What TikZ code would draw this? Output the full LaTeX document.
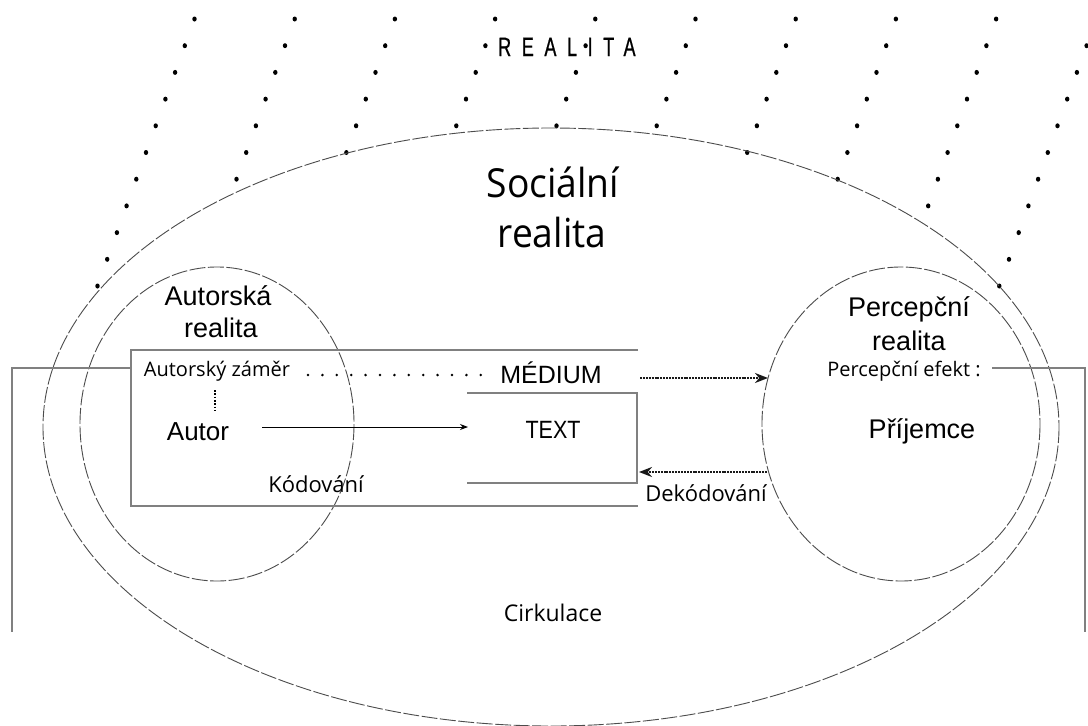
\documentclass[tikz,border=0pt]{standalone}
\usepackage{fontspec}
\setmainfont{Liberation Sans}
\newfontfamily\osans{Open Sans}
\newfontfamily\socfont[FakeStretch=0.93]{Open Sans}
\newfontfamily\condarial[FakeStretch=0.86]{Liberation Sans}
\newfontfamily\realfont[FakeStretch=0.68,LetterSpace=40,FakeBold=0.6]{Liberation Sans}
\usetikzlibrary{arrows.meta}
\begin{document}
\begin{tikzpicture}[x=1pt,y=-1pt,
  ring/.style={draw=black!70, line width=0.9pt, dash pattern=on 16pt off 2.5pt},
  boxline/.style={draw=black!50, line width=1.5pt},
  arialtxt/.style={inner sep=0pt, anchor=base, font=\fontsize{27}{30}\selectfont},
  sanstxt/.style={inner sep=0pt, anchor=base, font=\osans\fontsize{20}{24}\selectfont},
  dotarrow/.style={draw=black!90, line width=2.4pt, dash pattern=on 2pt off 0.9pt, -{Stealth[length=13pt,width=10pt]}},
  thinarrow/.style={draw=black, line width=0.9pt, -{Stealth[length=8pt,width=6pt]}},
  griddot/.style={fill=black}
]
\useasboundingbox (0,0) rectangle (1088,726);
\fill[white] (0,0) rectangle (1088,726);

% dot grid of the outer reality
\foreach \j in {0,...,10}{
  \foreach \i in {0,...,9}{
    \pgfmathsetmacro{\px}{194.5+100.2*\i-9.7*\j}
    \pgfmathsetmacro{\py}{19+26.7*\j}
    \pgfmathsetmacro{\vv}{((\px-551)/508)^2+((\py-427)/299)^2}
    \ifdim\vv pt>0.98pt
      \fill[griddot] (\px,\py) ellipse [x radius=2.2pt, y radius=2.5pt];
    \fi
  }
}

% ellipses
\draw[ring] (551,427) ellipse [x radius=508, y radius=299];
\draw[ring] (217,424) ellipse [x radius=137, y radius=157];
\draw[ring] (901,424) ellipse [x radius=139, y radius=157];

% texts
\node[inner sep=0pt, anchor=base west, font=\realfont\fontsize{26.5}{30}\selectfont] (realita) at (498,56) {REALITA};
\node[inner sep=0pt, anchor=base, font=\socfont\fontsize{40}{44}\selectfont] (soc1) at (553,197) {Sociální};
\node[inner sep=0pt, anchor=base, font=\socfont\fontsize{40}{44}\selectfont] (soc2) at (552,247) {realita};

\node[arialtxt] (autr1) at (218,305) {Autorská};
\node[arialtxt] (autr2) at (221,337) {realita};
\node[arialtxt] (perc1) at (909,316) {Percepční};
\node[arialtxt] (perc2) at (909,350) {realita};

\node[sanstxt] (zamer) at (217,376) {Autorský záměr};
\node[arialtxt, font=\fontsize{25}{28}\selectfont] (medium) at (551,383) {MÉDIUM};
\node[arialtxt, font=\fontsize{26}{29}\selectfont] (autor) at (198,440) {Autor};
\node[arialtxt, font=\condarial\fontsize{25}{28}\selectfont] (text) at (553,438) {TEXT};
\node[sanstxt, font=\osans\fontsize{22}{26}\selectfont] (kod) at (316,492) {Kódování};
\node[sanstxt, font=\osans\fontsize{22}{26}\selectfont] (dekod) at (706,501) {Dekódování};
\node[sanstxt] (efekt) at (904,376) {Percepční efekt :};
\node[arialtxt] (prij) at (922,438) {Příjemce};
\node[sanstxt, font=\osans\fontsize{23}{27}\selectfont] (cirk) at (553,621) {Cirkulace};

% medium box and text box
\draw[boxline] (638,350) -- (131,350) -- (131,506) -- (638,506);
\draw[boxline] (467,393) -- (637,393) -- (637,483) -- (467,483);

% circulation brackets
\coordinate (lb1) at (131,368);
\coordinate (lb2) at (12,368);
\coordinate (lb3) at (12,632);
\coordinate (rb1) at (992,368);
\coordinate (rb2) at (1085,368);
\coordinate (rb3) at (1085,632);
\draw[boxline, line width=1.3pt] (lb1) -- (lb2) -- (lb3);
\draw[boxline, line width=1.3pt] (rb1) -- (rb2) -- (rb3);

% dotted links
\coordinate (zd1) at (308,375);
\coordinate (zd2) at (481,375);
\draw[line width=2.8pt, line cap=round, dash pattern=on 0pt off 14.4pt] (zd1) -- (zd2);
\coordinate (vd1) at (215,390);
\coordinate (vd2) at (215,410);
\draw[line width=2.4pt, dash pattern=on 1.8pt off 1.5pt] (vd1) -- (vd2);

% arrows
\coordinate (a1) at (262,427);
\coordinate (a2) at (468,427);
\draw[thinarrow] (a1) -- (a2);
\coordinate (m1) at (640,378);
\coordinate (m2) at (768,378);
\draw[dotarrow] (m1) -- (m2);
\coordinate (d1) at (767,472);
\coordinate (d2) at (639,472);
\draw[dotarrow] (d1) -- (d2);
\end{tikzpicture}
\end{document}
